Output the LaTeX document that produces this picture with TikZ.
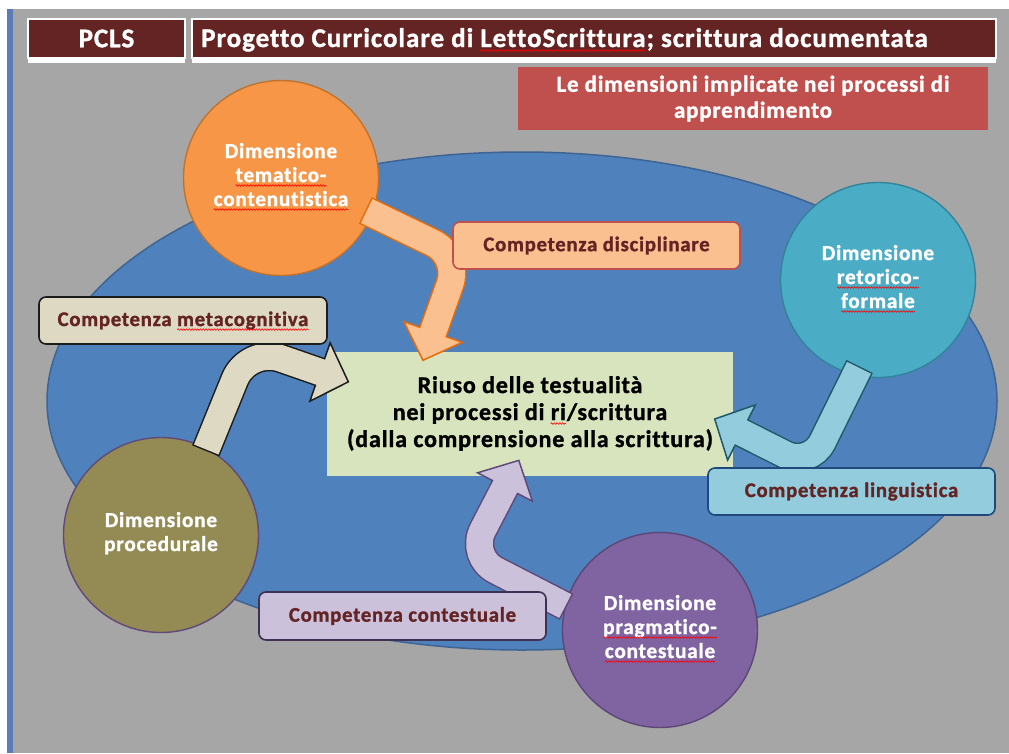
\documentclass[tikz,border=0pt]{standalone}
\usepackage{fontspec}
\setmainfont{Carlito}[Ligatures=NoCommon, LetterSpace=3.5, BoldFeatures={FakeBold=1.2}]
\usetikzlibrary{calc,decorations.pathmorphing}
\definecolor{bggray}{HTML}{A6A6A6}
\definecolor{stripblue}{HTML}{5A7DB6}
\definecolor{maroon}{HTML}{632423}
\definecolor{redbox}{HTML}{C0504D}
\definecolor{fieldF}{HTML}{4F81BD}
\definecolor{fieldB}{HTML}{3E6494}
\definecolor{greenF}{HTML}{D7E4BD}
\definecolor{orangeF}{HTML}{F79646}
\definecolor{orangeB}{HTML}{C0732E}
\definecolor{peachF}{HTML}{FAC090}
\definecolor{peachB}{HTML}{E46C0A}
\definecolor{beigeF}{HTML}{DDD9C3}
\definecolor{beigeB}{HTML}{1C1C1C}
\definecolor{oliveF}{HTML}{948A54}
\definecolor{oliveB}{HTML}{604A7B}
\definecolor{tealF}{HTML}{4BACC6}
\definecolor{tealB}{HTML}{31849B}
\definecolor{skyF}{HTML}{93CDDD}
\definecolor{skyB}{HTML}{215968}
\definecolor{lingB}{HTML}{1F497D}
\definecolor{violetF}{HTML}{8064A2}
\definecolor{violetB}{HTML}{5C4776}
\definecolor{lilacF}{HTML}{CCC1DA}
\definecolor{lilacB}{HTML}{5F497A}
\definecolor{contB}{HTML}{3F3151}
\newcommand{\fTitle}{\fontsize{27}{30}\selectfont\bfseries}
\newcommand{\fDim}{\fontsize{21.3}{24}\selectfont\bfseries}
\newcommand{\fLbl}{\fontsize{20.8}{24}\selectfont\bfseries}
\newcommand{\fCore}{\fontsize{24}{27}\selectfont\bfseries}
\newcommand{\fSub}{\fontsize{23}{26}\selectfont\bfseries}
\newlength\preLetto \newlength\lenLetto
\newlength\preRi \newlength\lenRi
\newlength\lenMeta
\newcommand{\blockarrow}[6]{%
  \coordinate (tip) at ($(#5)!-30pt!(#4)$);
  \coordinate (b1) at ($(#5)!1.03!90:(tip)$);
  \coordinate (b2) at ($(#5)!1.03!-90:(tip)$);
  \draw[#2, line width=29.5pt, rounded corners=#6] (#3) -- (#4) -- (#5);
  \filldraw[fill=#1, draw=#2, line width=1.5pt, line join=miter] (b1) -- (tip) -- (b2) -- cycle;
  \draw[#1, line width=26.5pt, rounded corners=#6, shorten <=1.5pt] (#3) -- (#4) -- ($(#5)!-2pt!(#4)$);
}
\begin{document}
\settowidth\preLetto{\fTitle Progetto Curricolare di }
\settowidth\lenLetto{\fTitle LettoScrittura}
\settowidth\preRi{\fCore nei processi di }
\settowidth\lenRi{\fCore ri}
\settowidth\lenMeta{\fLbl metacognitiva}
\begin{tikzpicture}[x=1pt,y=-1pt,
  lbl/.style={rounded corners=7pt, line width=1.6pt, text=maroon, inner sep=0pt,
    minimum width=287pt, minimum height=47pt, font=\fLbl},
  dim/.style={circle, line width=1.4pt, inner sep=0pt, minimum size=195pt},
  dtext/.style={inner sep=0pt, outer sep=0pt, anchor=base, text=white, font=\fDim},
  head/.style={fill=maroon, draw=white, line width=1.2pt, inner sep=0pt, minimum height=39pt,
    text=white, font=\fTitle},
  wave/.style={red, line width=0.6pt, decorate, decoration={snake, amplitude=0.8pt, segment length=2.8pt}}
]
\useasboundingbox (0,0) rectangle (1009,753);
\fill[white] (0,0) rectangle (1009,753);
\fill[bggray] (13,9) rectangle (1009,753);
\fill[stripblue] (7,9) rectangle (13,753);

% header
\node[head, minimum width=157pt] (pcls) at (106.5,38.5) {PCLS};
\fill[white] (28,58) rectangle (185,62.5);
\node[head, minimum width=804pt] (title) at (594,38.5) {};
\fill[white] (192,58) rectangle (996,62.5);
\node[inner sep=0pt, anchor=base west, text=white, font=\fTitle] (titleT) at (201,47)
  {Progetto Curricolare di LettoScrittura; scrittura documentata};
\draw[wave] ([xshift=\preLetto, yshift=-3.5pt]titleT.base west) -- ([xshift=\preLetto+\lenLetto, yshift=-3.5pt]titleT.base west);

\node[fill=redbox, minimum width=470pt, minimum height=63pt, inner sep=0pt, text=white, align=center,
  font=\fSub] (sub) at (753,98.5)
  {Le dimensioni implicate nei processi di\\apprendimento};

% field
\draw[fill=fieldF, draw=fieldB, line width=1.5pt] (522,401) ellipse [x radius=475, y radius=249];

% centre
\node[fill=greenF, minimum width=406pt, minimum height=124pt, inner sep=0pt] (core) at (530,414) {};
\node[inner sep=0pt, anchor=base, font=\fCore] (core1) at ($(core.center)+(0,-21)$) {Riuso delle testualità};
\node[inner sep=0pt, anchor=base, font=\fCore] (core2) at ($(core.center)+(0,6)$) {nei processi di ri/scrittura};
\node[inner sep=0pt, anchor=base, font=\fCore] (core3) at ($(core.center)+(0,33)$) {(dalla comprensione alla scrittura)};
\draw[wave] ([xshift=\preRi, yshift=-3.5pt]core2.base west) -- ([xshift=\preRi+\lenRi, yshift=-3.5pt]core2.base west);

% dimensions
\node[dim, fill=orangeF, draw=orangeB] (tema) at (281,178) {};
\node[dim, fill=tealF, draw=tealB] (reto) at (878,280) {};
\node[dim, fill=violetF, draw=violetB] (prag) at (660,630) {};
\node[dim, fill=oliveF, draw=oliveB] (proc) at (161,535) {};

\foreach \c/\a/\b in {tema/tematico-/contenutistica, reto/retorico-/formale, prag/pragmatico-/contestuale}{
  \node[dtext] (\c1) at ($(\c.center)+(0,-20)$) {Dimensione};
  \node[dtext] (\c2) at ($(\c.center)+(0,4)$) {\a};
  \node[dtext] (\c3) at ($(\c.center)+(0,28)$) {\b};
  \draw[wave] ([yshift=-3.5pt]\c2.base west) -- ([yshift=-3.5pt]\c2.base east);
  \draw[wave] ([yshift=-3.5pt]\c3.base west) -- ([yshift=-3.5pt]\c3.base east);
}
\node[dtext] (proc1) at ($(proc.center)+(0,-8)$) {Dimensione};
\node[dtext] (proc2) at ($(proc.center)+(0,16)$) {procedurale};

% arrows
\coordinate (tS) at ($(tema.center)!0.92!(tema.-21)$);
\coordinate (tK) at (460,256);
\coordinate (tB) at (433,332);
\blockarrow{peachF}{peachB}{tS}{tK}{tB}{30pt}

\coordinate (pS) at ($(proc.center)!0.97!(proc.62)$);
\coordinate (pK) at (248,347);
\coordinate (pB) at (320,372);
\blockarrow{beigeF}{beigeB}{pS}{pK}{pB}{35pt}

\coordinate (rS) at ($(reto.center)!0.9!(reto.-102)$);
\coordinate (rK) at (810,467);
\coordinate (rB) at (741.5,432.5);
\blockarrow{skyF}{skyB}{rS}{rK}{rB}{28pt}

\coordinate (gS) at ($(prag.center)!0.98!(prag.166)$);
\coordinate (gK) at (469,556.5);
\coordinate (gB) at (505,487);
\blockarrow{lilacF}{lilacB}{gS}{gK}{gB}{30pt}

% competences
\node[lbl, fill=peachF, draw=redbox] (disc) at (596.5,245.5) {Competenza disciplinare};
\node[lbl, fill=beigeF, draw=beigeB, minimum width=288pt] (meta) at (183,320.5) {};
\node[inner sep=0pt, text=maroon, font=\fLbl] (metaT) at (meta.center) {Competenza metacognitiva};
\draw[wave] ([xshift=-\lenMeta, yshift=-3.5pt]metaT.base east) -- ([yshift=-3.5pt]metaT.base east);
\node[lbl, fill=skyF, draw=lingB] (ling) at (851.5,491.5) {Competenza linguistica};
\node[lbl, fill=lilacF, draw=contB, minimum height=48pt] (cont) at (402.5,616) {Competenza contestuale};
\end{tikzpicture}
\end{document}
